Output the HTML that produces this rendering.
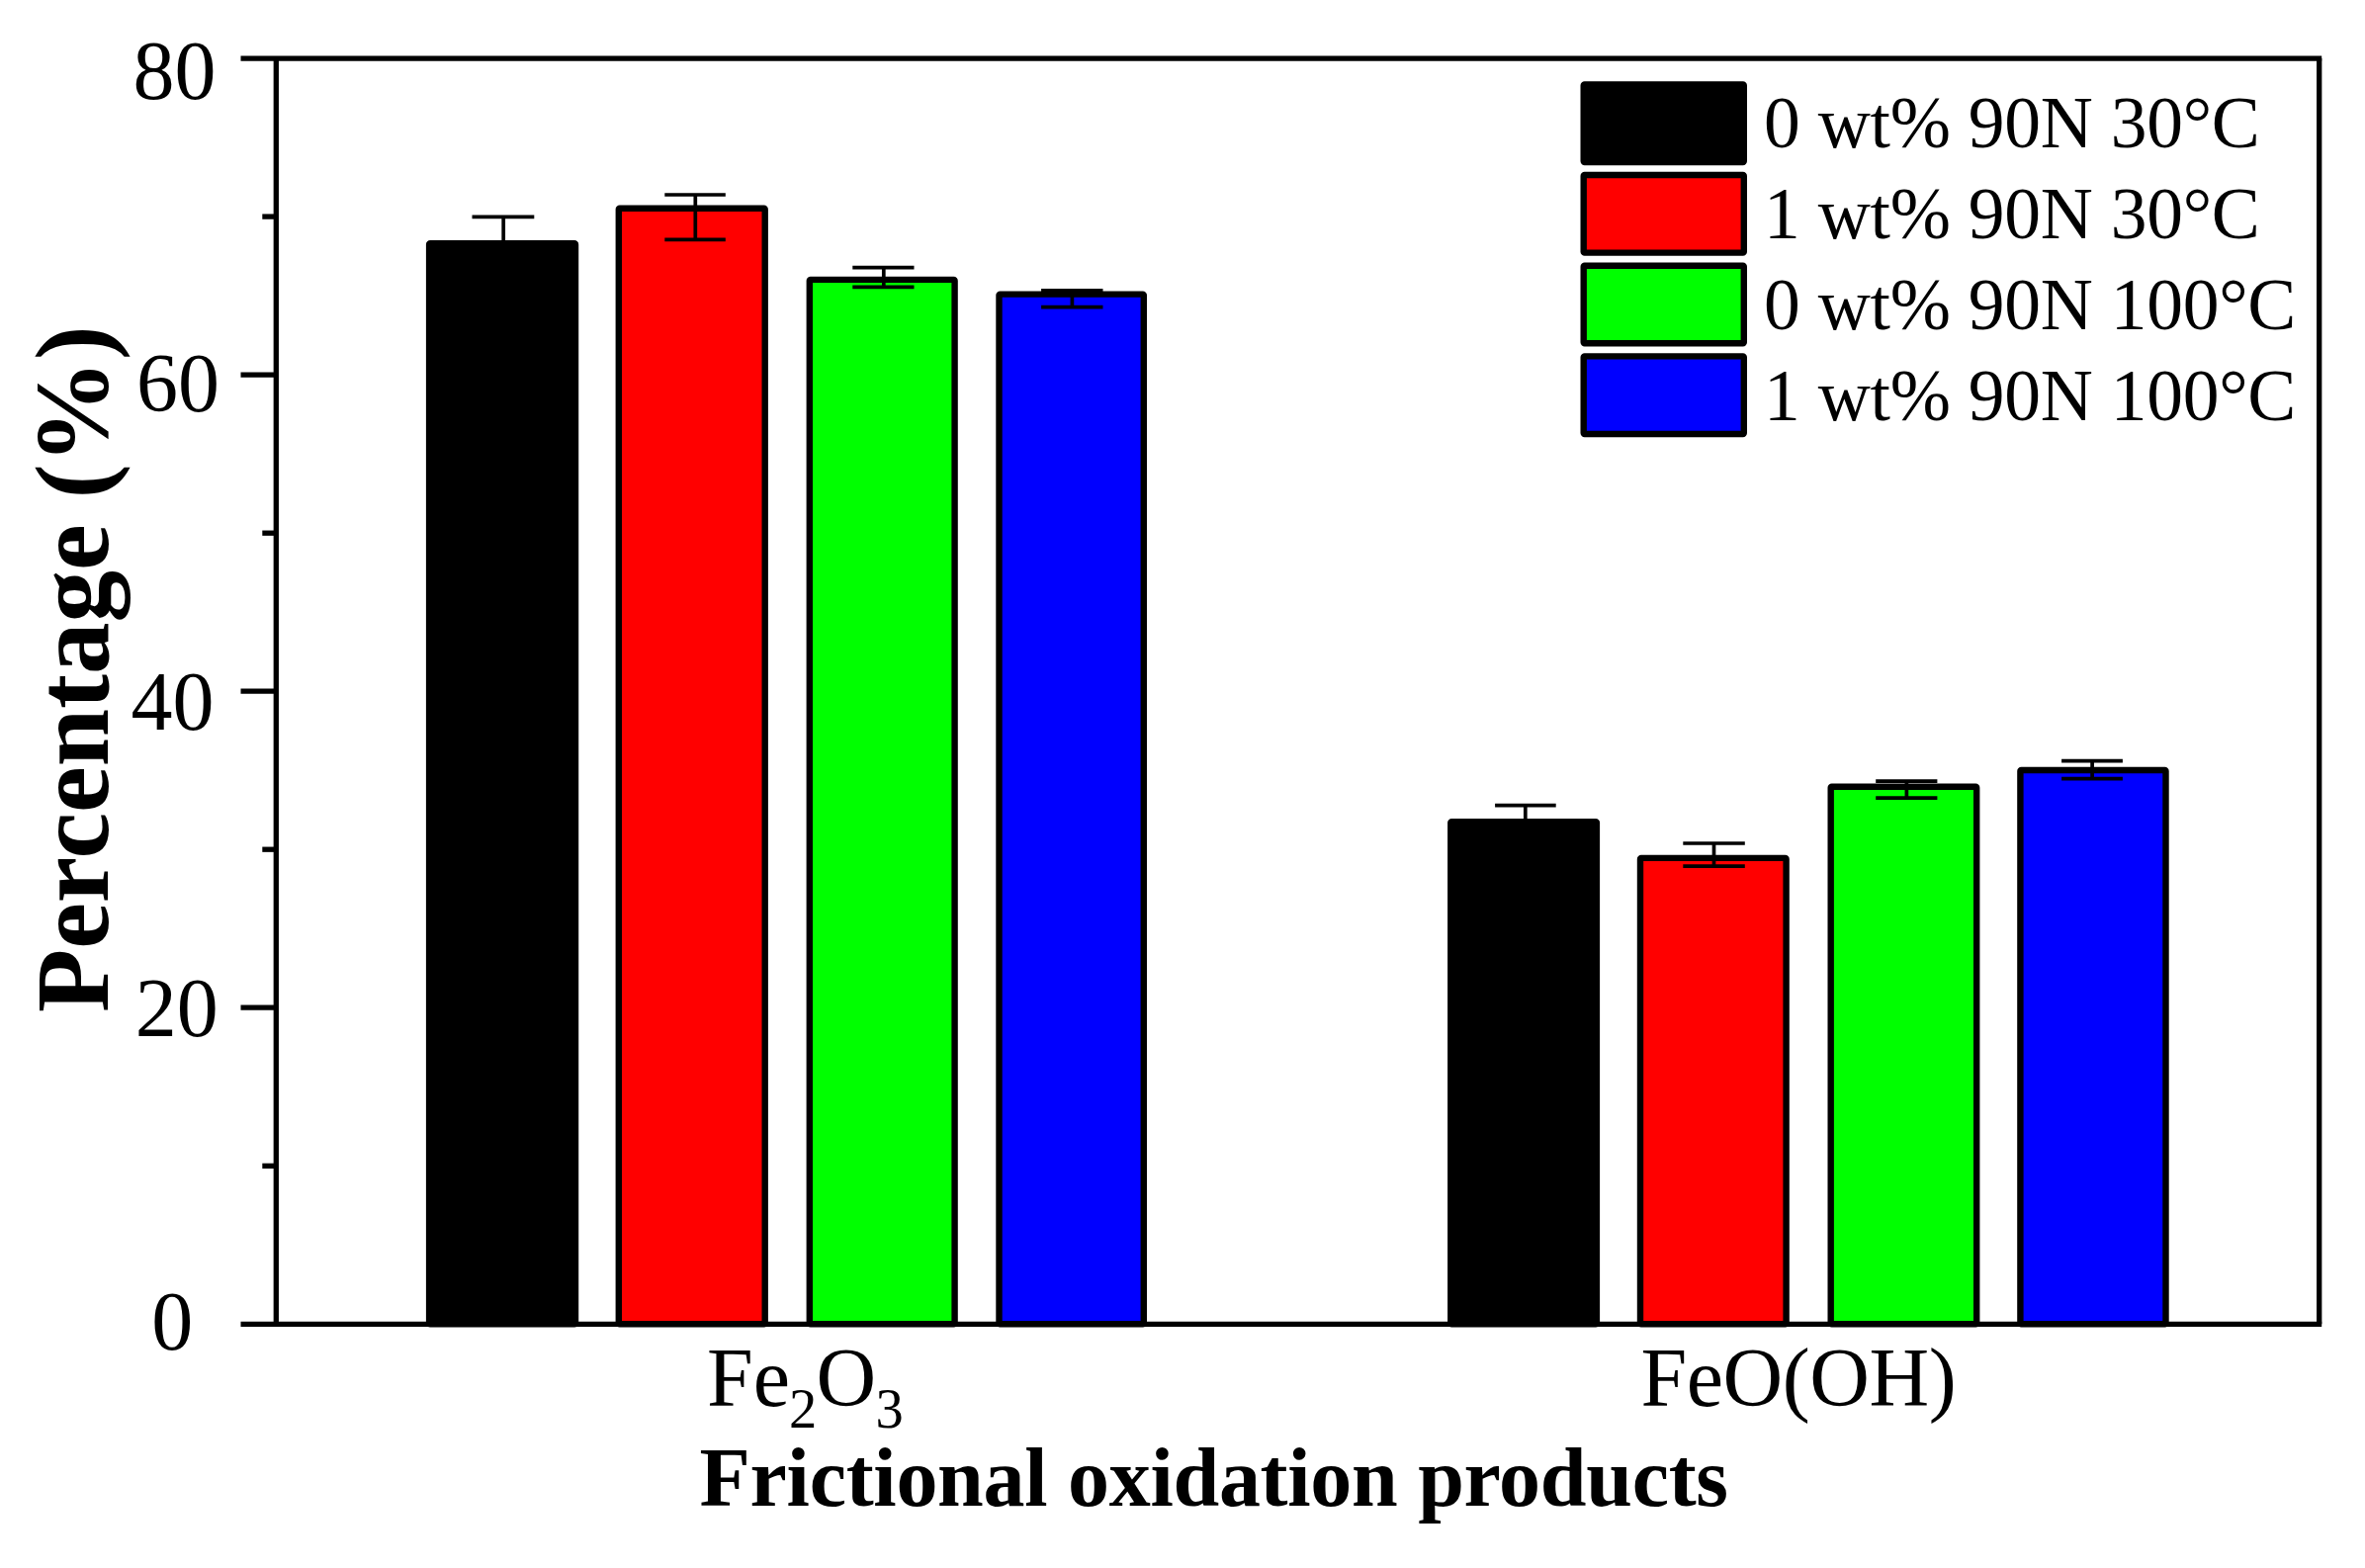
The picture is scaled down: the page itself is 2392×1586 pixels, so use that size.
<!DOCTYPE html>
<html lang="en">
<head>
<meta charset="utf-8">
<title>Frictional oxidation products</title>
<style>
html,body{margin:0;padding:0;background:#fff;}
body{width:2392px;height:1586px;overflow:hidden;}
svg{display:block;}
text{font-family:"Liberation Serif","Times New Roman",serif;fill:#000;}
.tick{font-size:84px;}
.leg{font-size:73.5px;}
.xt{font-size:84px;font-weight:bold;}
.yt{font-size:105px;font-weight:bold;}
.bar{stroke:#000;stroke-width:6.4;stroke-linejoin:round;}
.ax{stroke:#000;stroke-width:5.3;fill:none;}
.eb{stroke:#000;stroke-width:3.7;fill:none;}
</style>
</head>
<body>
<svg width="2392" height="1586" viewBox="0 0 2392 1586">
<rect x="0" y="0" width="2392" height="1586" fill="#ffffff"/>

<g class="bar">
<rect x="434.1" y="246.3" width="147.9" height="1093.0" rx="1" fill="#000000"/>
<rect x="625.8" y="210.7" width="147.9" height="1128.6" rx="1" fill="#ff0000"/>
<rect x="818.8" y="282.9" width="146.8" height="1056.4" rx="1" fill="#00ff00"/>
<rect x="1010.5" y="297.6" width="146.3" height="1041.7" rx="1" fill="#0000ff"/>
<rect x="1467.3" y="831.1" width="147.6" height="508.2" rx="1" fill="#000000"/>
<rect x="1659.0" y="867.9" width="147.6" height="471.4" rx="1" fill="#ff0000"/>
<rect x="1851.7" y="795.7" width="147.5" height="543.6" rx="1" fill="#00ff00"/>
<rect x="2043.4" y="779.0" width="147.1" height="560.3" rx="1" fill="#0000ff"/>
</g>
<g class="eb">
<path d="M477.5 219.4H540.3M509.2 219.4V246.0"/>
<path d="M672.3 197.0H733.8M703.3 197.0V242.3M672.3 242.3H733.8"/>
<path d="M862.3 270.6H924.5M893.8 270.6V290.4M862.3 290.4H924.5"/>
<path d="M1053.1 293.8H1115.5M1084.4 293.8V310.6M1053.1 310.6H1115.5"/>
<path d="M1512.1 814.6H1573.7M1542.8 814.6V831.0"/>
<path d="M1702.3 853.0H1764.8M1733.5 853.0V876.2M1702.3 876.2H1764.8"/>
<path d="M1897.2 790.2H1959.4M1928.4 790.2V807.2M1897.2 807.2H1959.4"/>
<path d="M2085.1 769.7H2146.9M2116.1 769.7V787.7M2085.1 787.7H2146.9"/>
</g>
<g class="ax">
<path d="M243.5 59.1H2348.2"/>
<path d="M243.5 1339.3H2348.2"/>
<path d="M279.3 59.1V1339.3"/>
<path d="M2345.7 59.1V1339.3"/>
<path d="M243.5 1019.2H279.3"/>
<path d="M243.5 699.2H279.3"/>
<path d="M243.5 379.1H279.3"/>
<path d="M265.3 1179.3H279.3"/>
<path d="M265.3 859.2H279.3"/>
<path d="M265.3 539.2H279.3"/>
<path d="M265.3 219.1H279.3"/>
</g>
<g class="tick">
<text x="134.4" y="100.0">80</text>
<text x="137.9" y="415.8">60</text>
<text x="132.5" y="737.7">40</text>
<text x="136.8" y="1047.7">20</text>
<text x="153.2" y="1365.2">0</text>
<text x="715" y="1421.6">Fe<tspan font-size="56.5" dy="22" dx="-1.1">2</tspan><tspan dy="-22" dx="-0.7">O</tspan><tspan font-size="56.5" dy="22" dx="-0.6">3</tspan></text>
<text x="1659.4" y="1422" letter-spacing="-0.45">FeO(OH)</text>
</g>
<text class="xt" x="707.6" y="1523.4" letter-spacing="-0.29">Frictional oxidation products</text>
<text class="yt" transform="translate(109 1024) rotate(-90)">Percentage (%)</text>
<g class="bar">
<rect x="1601.7" y="85.40" width="162.1" height="78.6" rx="1" fill="#000000"/>
<rect x="1601.7" y="177.05" width="162.1" height="78.6" rx="1" fill="#ff0000"/>
<rect x="1601.7" y="268.70" width="162.1" height="78.6" rx="1" fill="#00ff00"/>
<rect x="1601.7" y="360.35" width="162.1" height="78.6" rx="1" fill="#0000ff"/>
</g>
<g class="leg">
<text x="1784.0" y="149.4" letter-spacing="-0.25">0 wt% 90N 30°C</text>
<text x="1784.0" y="241.2" letter-spacing="-0.25">1 wt% 90N 30°C</text>
<text x="1784.0" y="333.0" letter-spacing="-0.25">0 wt% 90N 100°C</text>
<text x="1784.0" y="424.9" letter-spacing="-0.25">1 wt% 90N 100°C</text>
</g>
</svg>
</body>
</html>
